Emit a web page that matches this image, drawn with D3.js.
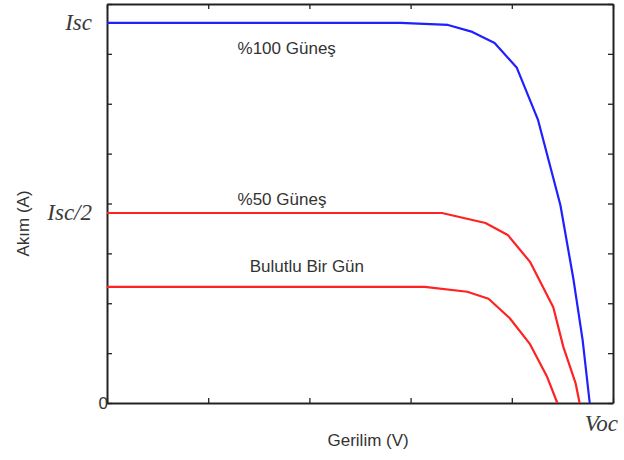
<!DOCTYPE html>
<html>
<head>
<meta charset="utf-8">
<script src="https://cdn.jsdelivr.net/npm/d3@7"></script>
<style>
  body { margin: 0; background: #fff; }
  .lbl { font-family: "Liberation Sans", Arial, sans-serif; font-size: 17px; fill: #333; }
  .sym { font-family: "Liberation Serif", "Times New Roman", serif; font-style: italic; font-size: 23px; fill: #3a3a3a; }
</style>
</head>
<body>
<div id="chart"></div>
<script>
var svgWidth = 624;
var svgHeight = 460;

var margin = { top: 4, right: 11, bottom: 57, left: 107 };

var plotWidth = svgWidth - margin.left - margin.right;
var plotHeight = svgHeight - margin.top - margin.bottom;

// I-V curves, voltage and current in arbitrary units
var sunVolt = [0, 2.9, 3.37, 3.61, 3.83, 4.05, 4.26, 4.48, 4.61, 4.70, 4.77];
var sunAmp = [7.62, 7.62, 7.58, 7.44, 7.22, 6.72, 5.67, 3.97, 2.47, 1.26, 0];

var halfVolt = [0, 3.31, 3.74, 3.96, 4.18, 4.41, 4.51, 4.63, 4.67];
var halfAmp = [3.81, 3.81, 3.61, 3.37, 2.83, 1.92, 1.12, 0.40, 0];

var cloudVolt = [0, 3.14, 3.56, 3.77, 3.98, 4.18, 4.35, 4.45];
var cloudAmp = [2.33, 2.33, 2.23, 2.09, 1.70, 1.18, 0.52, 0];

var seriesNames = ["%100 Güneş", "%50 Güneş", "Bulutlu Bir Gün"];
var seriesColors = ["#1f1fff", "#ff2222", "#ff2222"];

var yTickLabels = ["Isc", "Isc/2", "0"];
var yTickValues = [7.62, 3.81, 0];
var xTickLabels = ["Voc"];
var xTickValues = [4.77];

var svg = d3.select("#chart")
  .append("svg")
  .attr("width", svgWidth)
  .attr("height", svgHeight);

var plot = svg.append("g")
  .attr("transform", `translate(${margin.left}, ${margin.top})`);

var xScale = d3.scaleLinear().domain([0, 5]).range([0, plotWidth]);
var yScale = d3.scaleLinear().domain([0, 8]).range([plotHeight, 0]);

// frame with inward ticks on all four sides
function styleAxis(g) {
  g.selectAll("text").remove();
  g.select(".domain").attr("stroke", "#222").attr("stroke-width", 2);
  g.selectAll(".tick line").attr("stroke", "#222").attr("stroke-width", 1.3);
}

plot.append("g")
  .attr("transform", `translate(0, ${plotHeight})`)
  .call(d3.axisBottom(xScale).ticks(5).tickSize(-5).tickSizeOuter(0))
  .call(styleAxis);
plot.append("g")
  .call(d3.axisTop(xScale).ticks(5).tickSize(-5).tickSizeOuter(0))
  .call(styleAxis);
plot.append("g")
  .call(d3.axisLeft(yScale).ticks(8).tickSize(-5).tickSizeOuter(0))
  .call(styleAxis);
plot.append("g")
  .attr("transform", `translate(${plotWidth}, 0)`)
  .call(d3.axisRight(yScale).ticks(8).tickSize(-5).tickSizeOuter(0))
  .call(styleAxis);

var line = d3.line()
  .x(d => xScale(d[0]))
  .y(d => yScale(d[1]));

var curves = [
  d3.zip(sunVolt, sunAmp),
  d3.zip(halfVolt, halfAmp),
  d3.zip(cloudVolt, cloudAmp)
];

plot.selectAll(".curve")
  .data(curves)
  .enter()
  .append("path")
  .attr("class", "curve")
  .attr("d", line)
  .attr("fill", "none")
  .attr("stroke", (d, i) => seriesColors[i])
  .attr("stroke-width", 2.2)
  .attr("stroke-linejoin", "round");

// curve labels
var labelPos = [[1.29, 7.0], [1.29, 3.96], [1.41, 2.62]];
plot.selectAll(".serie")
  .data(seriesNames)
  .enter()
  .append("text")
  .attr("class", "lbl")
  .attr("x", (d, i) => xScale(labelPos[i][0]))
  .attr("y", (d, i) => yScale(labelPos[i][1]))
  .text(d => d);

// symbolic tick labels
plot.selectAll(".ylab")
  .data(yTickLabels)
  .enter()
  .append("text")
  .attr("class", (d, i) => d == "0" ? "lbl" : "sym")
  .attr("text-anchor", "end")
  .attr("x", (d, i) => d == "0" ? 1 : -15)
  .attr("y", (d, i) => yScale(yTickValues[i]))
  .attr("dy", (d, i) => d == "0" ? "0.38em" : "0.3em")
  .text(d => d);

plot.selectAll(".xlab")
  .data(xTickLabels)
  .enter()
  .append("text")
  .attr("class", "sym")
  .attr("x", (d, i) => xScale(xTickValues[i]) - 5)
  .attr("y", plotHeight + 28)
  .text(d => d);

// axis titles
plot.append("text")
  .attr("class", "lbl")
  .attr("text-anchor", "middle")
  .attr("x", xScale(2.58))
  .attr("y", plotHeight + 43)
  .text("Gerilim (V)");

plot.append("text")
  .attr("class", "lbl")
  .attr("text-anchor", "middle")
  .attr("transform", "rotate(-90)")
  .attr("x", -yScale(3.6))
  .attr("y", -78)
  .text("Akım (A)");
</script>
</body>
</html>
